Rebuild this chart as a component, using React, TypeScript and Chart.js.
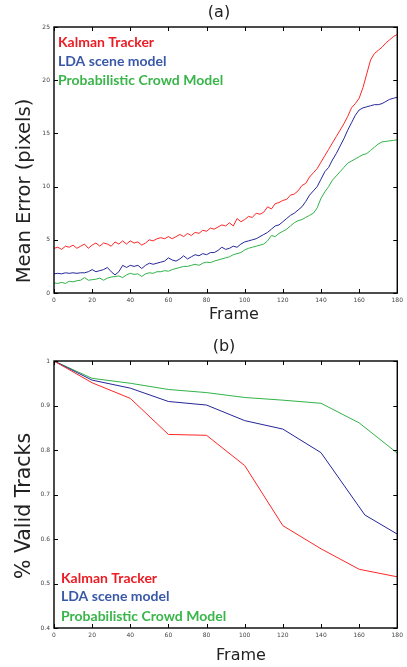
import React, { useEffect, useRef } from 'react';
import { Chart, registerables } from 'chart.js';
Chart.register(...registerables);

// ---------- Data: panel (a) Mean Error vs Frame ----------
const framesA = [0, 2, 4, 6, 8, 10, 12, 14, 16, 18, 20, 22, 24, 26, 28, 30, 32, 34, 36, 38, 40, 42, 44, 46, 48, 50, 52, 54, 56, 58, 60, 62, 64, 66, 68, 70, 72, 74, 76, 78, 80, 82, 84, 86, 88, 90, 92, 94, 96, 98, 100, 102, 104, 106, 108, 110, 112, 114, 116, 118, 120, 122, 124, 126, 128, 130, 132, 134, 136, 138, 140, 142, 144, 146, 148, 150, 152, 154, 156, 158, 160, 162, 164, 166, 168, 170, 172, 174, 176, 178, 180];
const kalmanA = [4.2, 4.3, 4.1, 4.4, 4.3, 4.5, 4.2, 4.4, 4.6, 4.2, 4.5, 4.7, 4.4, 4.7, 4.6, 4.4, 4.8, 4.6, 4.9, 4.6, 4.9, 4.7, 4.8, 4.5, 4.7, 5.0, 4.9, 5.1, 5.2, 5.1, 5.3, 5.1, 5.3, 5.5, 5.3, 5.6, 5.4, 5.7, 5.6, 5.9, 5.8, 6.1, 6.0, 6.2, 6.4, 6.3, 6.6, 6.3, 7.0, 6.7, 6.9, 7.2, 7.1, 7.5, 7.4, 7.6, 8.1, 7.9, 8.4, 8.5, 8.7, 8.8, 9.2, 9.3, 9.6, 10.1, 10.3, 10.9, 11.3, 11.7, 12.3, 12.9, 13.5, 14.1, 14.7, 15.3, 15.9, 16.6, 17.4, 17.8, 18.3, 19.3, 20.6, 21.9, 22.5, 22.8, 23.1, 23.5, 23.8, 24.1, 24.3];
const ldaA = [1.8, 1.85, 1.8, 1.9, 1.85, 1.9, 1.85, 1.9, 1.9, 2.0, 2.2, 2.0, 2.1, 2.2, 2.4, 2.0, 1.7, 2.0, 2.6, 2.4, 2.6, 2.5, 2.6, 2.3, 2.6, 2.8, 2.7, 2.8, 2.9, 3.0, 3.3, 3.1, 3.0, 3.2, 3.5, 3.2, 3.4, 3.6, 3.5, 3.7, 3.6, 3.8, 3.8, 4.0, 4.3, 4.1, 4.2, 4.4, 4.3, 4.6, 4.8, 4.9, 5.0, 5.1, 5.3, 5.5, 5.7, 6.0, 6.3, 6.4, 6.7, 7.0, 7.3, 7.5, 7.8, 8.1, 8.6, 9.2, 9.6, 10.0, 10.7, 11.4, 11.8, 12.5, 13.1, 13.8, 14.5, 15.3, 16.0, 16.7, 17.2, 17.4, 17.5, 17.6, 17.7, 17.7, 17.8, 18.0, 18.2, 18.3, 18.4];
const crowdA = [0.95, 0.9, 1.0, 0.9, 1.1, 1.05, 1.15, 1.2, 1.45, 1.2, 1.25, 1.3, 1.4, 1.2, 1.4, 1.5, 1.55, 1.6, 1.45, 1.7, 1.85, 1.75, 1.8, 1.55, 1.8, 1.9, 1.85, 2.0, 2.0, 2.1, 2.05, 2.2, 2.3, 2.4, 2.5, 2.5, 2.6, 2.7, 2.6, 2.8, 2.9, 2.85, 3.0, 3.1, 3.2, 3.3, 3.4, 3.6, 3.7, 3.8, 4.05, 4.2, 4.3, 4.4, 4.5, 4.6, 4.9, 5.4, 5.3, 5.6, 5.8, 6.0, 6.3, 6.6, 6.8, 6.9, 7.1, 7.3, 7.5, 8.0, 8.9, 9.5, 10.0, 10.6, 11.0, 11.4, 11.8, 12.2, 12.4, 12.6, 12.8, 13.0, 13.1, 13.4, 13.7, 14.0, 14.2, 14.25, 14.3, 14.35, 14.4];

// ---------- Data: panel (b) % Valid Tracks vs Frame ----------
const framesB = [0, 20, 40, 60, 80, 100, 120, 140, 160, 180];
const framesBLda = [0, 20, 40, 60, 80, 100, 120, 140, 163, 180];
const kalmanB = [1.0, 0.951, 0.916, 0.835, 0.833, 0.765, 0.630, 0.578, 0.532, 0.515];
const ldaB = [1.0, 0.957, 0.939, 0.909, 0.901, 0.866, 0.847, 0.794, 0.654, 0.611];
const crowdB = [1.0, 0.961, 0.950, 0.936, 0.929, 0.918, 0.912, 0.905, 0.861, 0.793];

const seriesLabels = ['Kalman Tracker', 'LDA scene model', 'Probabilistic Crowd Model'];
const lineColors = ['#ff2626', '#26269a', '#30b347'];
const legendColors = ['#ec1c24', '#3a58a8', '#39b54a'];

const xTitle = 'Frame';
const yTitleA = 'Mean Error (pixels)';
const yTitleB = '% Valid Tracks';

const decorPlugin = {
  id: 'decor',
  afterDraw(chart: any) {
    const o = chart.options.plugins.decor;
    const { ctx, chartArea: a, scales } = chart;
    ctx.save();
    // box
    ctx.strokeStyle = '#000';
    ctx.lineWidth = 1.4;
    ctx.strokeRect(a.left, a.top, a.right - a.left, a.bottom - a.top);
    // inward tick marks on all four sides
    const L = 4;
    ctx.lineWidth = 1;
    ctx.beginPath();
    scales.x.ticks.forEach((t: any) => {
      const x = Math.round(scales.x.getPixelForValue(t.value)) + 0.5;
      ctx.moveTo(x, a.bottom); ctx.lineTo(x, a.bottom - L);
      ctx.moveTo(x, a.top); ctx.lineTo(x, a.top + L);
    });
    scales.y.ticks.forEach((t: any) => {
      const y = Math.round(scales.y.getPixelForValue(t.value)) + 0.5;
      ctx.moveTo(a.left, y); ctx.lineTo(a.left + L, y);
      ctx.moveTo(a.right, y); ctx.lineTo(a.right - L, y);
    });
    ctx.stroke();
    // panel title
    ctx.fillStyle = '#222';
    ctx.textAlign = 'center';
    ctx.textBaseline = 'middle';
    ctx.font = '16px "DejaVu Sans"';
    ctx.fillText(o.title, o.titleX, o.titleY);
    // x title
    ctx.font = '16px "DejaVu Sans"';
    ctx.fillText(o.xTitle, o.xTitleX, o.xTitleY);
    // y title
    ctx.save();
    ctx.translate(o.yTitleX, o.yTitleY);
    ctx.rotate(-Math.PI / 2);
    ctx.font = o.yFont;
    ctx.fillText(o.yTitle, 0, 0);
    ctx.restore();
    // legend text
    ctx.textAlign = 'left';
    ctx.font = 'bold 14px Lato';
    chart.data.datasets.forEach((ds: any, i: number) => {
      ctx.fillStyle = legendColors[i];
      ctx.fillText(ds.label, a.left + o.legX, o.legY[i]);
    });
    ctx.restore();
  },
};

function makeDatasets(xs: number[][], ys: number[][]) {
  return ys.map((vals, i) => ({
    label: seriesLabels[i],
    data: vals.map((v, j) => ({ x: xs[i][j], y: v })),
    borderColor: lineColors[i],
    backgroundColor: lineColors[i],
    borderWidth: 1,
    pointRadius: 0,
    tension: 0,
    fill: false,
  }));
}

function makeOptions(yMin: number, yMax: number, yStep: number, xHeight: number, top: number, decor: any, fmt: (v: number) => string) {
  const tickFont = { size: 6, family: '"DejaVu Sans"' };
  return {
    responsive: false,
    animation: false,
    layout: { padding: { left: 0, right: 6, top, bottom: 0 } },
    plugins: { legend: { display: false }, tooltip: { enabled: false }, title: { display: false }, decor },
    scales: {
      x: {
        type: 'linear',
        min: 0,
        max: 180,
        grid: { display: false, drawTicks: false },
        border: { display: false },
        ticks: { stepSize: 20, font: tickFont, color: '#444', padding: 4, maxRotation: 0 },
        afterFit: (s: any) => { s.height = xHeight; },
      },
      y: {
        min: yMin,
        max: yMax,
        grid: { display: false, drawTicks: false },
        border: { display: false },
        ticks: { stepSize: yStep, font: tickFont, color: '#444', padding: 4, callback: (v: any) => fmt(Number(v)) },
        afterFit: (s: any) => { s.width = 54; },
      },
    },
  } as any;
}

export default function App() {
  const refA = useRef<HTMLCanvasElement>(null);
  const refB = useRef<HTMLCanvasElement>(null);

  useEffect(() => {
    const chartA = new Chart(refA.current as HTMLCanvasElement, {
      type: 'line',
      data: { datasets: makeDatasets([framesA, framesA, framesA], [kalmanA, ldaA, crowdA]) },
      options: makeOptions(0, 25, 5, 40, 27, {
        title: '(a)', titleX: 219, titleY: 13,
        xTitle, xTitleX: 234, xTitleY: 315,
        yTitle: yTitleA, yTitleX: 25, yTitleY: 191, yFont: '19.5px "DejaVu Sans"',
        legX: 4, legY: [42, 61, 80],
      }, (v) => String(Math.round(v))),
      plugins: [decorPlugin],
    });
    const chartB = new Chart(refB.current as HTMLCanvasElement, {
      type: 'line',
      data: { datasets: makeDatasets([framesB, framesBLda, framesB], [kalmanB, ldaB, crowdB]) },
      options: makeOptions(0.4, 1, 0.1, 39, 28, {
        title: '(b)', titleX: 224, titleY: 14,
        xTitle, xTitleX: 241, xTitleY: 323,
        yTitle: yTitleB, yTitleX: 25, yTitleY: 173, yFont: '20.5px "DejaVu Sans"',
        legX: 7, legY: [245, 263, 283],
      }, (v) => String(Math.round(v * 10) / 10)),
      plugins: [decorPlugin],
    });
    return () => { chartA.destroy(); chartB.destroy(); };
  }, []);

  return (
    <div style={{ position: 'absolute', left: 0, top: 0, width: 407, height: 667, background: '#fff' }}>
      <canvas ref={refA} width={407} height={333} style={{ display: 'block', width: 407, height: 333 }} />
      <canvas ref={refB} width={407} height={334} style={{ display: 'block', width: 407, height: 334 }} />
    </div>
  );
}
